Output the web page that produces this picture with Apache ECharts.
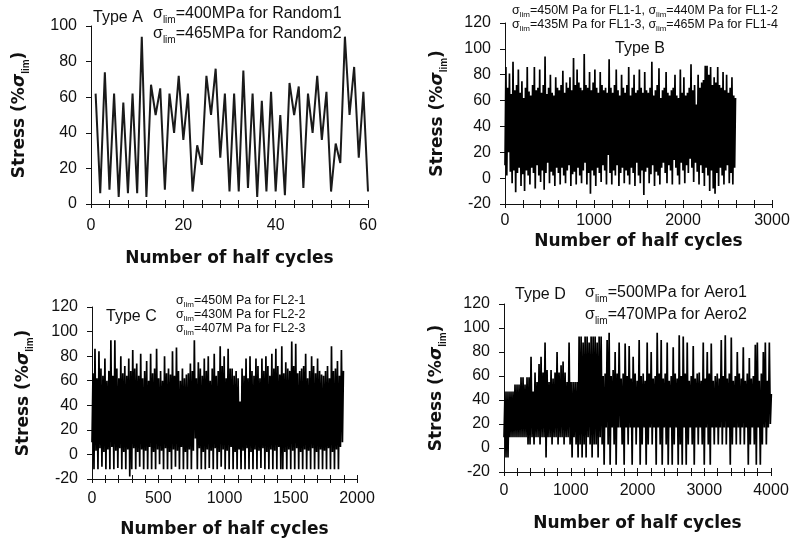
<!DOCTYPE html>
<html>
<head>
<meta charset="utf-8">
<style>html,body{margin:0;padding:0;background:#fff}#chart{width:794px;height:544px}</style>
<script src="https://cdn.jsdelivr.net/npm/echarts@6/dist/echarts.min.js"></script>
</head>
<body>
<div id="chart"></div>
<script>
// Type A: stress at each half cycle (1..60), % of sigma_lim
const aStress = [62, 6, 74, 8, 62, 4, 57, 6, 62, 6,
  94, 4, 67, 50, 65, 8, 62, 40, 72, 36,
  62, 7, 33, 22, 72, 50, 76, 26, 62, 7,
  62, 7, 75, 9, 62, 4, 58, 7, 63, 7,
  50, 5, 68, 50, 66, 9, 62, 40, 72, 36,
  63, 7, 34, 23, 94, 50, 77, 26, 63, 7];

// Type B: turning points, one valley + one peak per block of half cycles
const bStep = 20;
const bPeaks = [86, 70, 81, 65, 90, 68, 72, 84, 66, 75,
  62, 70, 86, 67, 64, 72, 86, 68, 70, 84,
  66, 72, 94, 65, 70, 80, 66, 64, 78, 70,
  68, 72, 83, 66, 74, 70, 78, 68, 93, 72,
  84, 74, 70, 68, 96, 72, 70, 82, 68, 74,
  84, 70, 66, 82, 72, 68, 70, 66, 92, 70,
  66, 72, 84, 68, 64, 80, 70, 66, 72, 86,
  64, 70, 80, 66, 68, 84, 70, 66, 82, 68,
  66, 70, 90, 64, 68, 72, 85, 62, 68, 70,
  82, 66, 64, 68, 70, 80, 64, 62, 84, 66,
  78, 64, 66, 70, 88, 68, 72, 57, 80, 70,
  74, 76, 87, 87, 80, 86, 72, 78, 74, 86,
  72, 70, 82, 68, 80, 66, 70, 78, 64, 62];
const bValleys = [10, 2, 20, 5, -4, 6, -11, 4, 8, -6,
  3, -10, 6, 2, -5, 8, 4, -8, 10, 2,
  -3, 6, -9, 4, 12, -4, 5, 2, -6, 8,
  4, -5, 8, 2, -4, 6, 10, -6, 3, 5,
  -5, 8, 2, -4, 6, 12, -5, 4, -12, 6,
  2, -6, 8, 4, -3, 10, 6, -5, 18, 4,
  -5, 6, 2, 10, -6, 4, 8, -4, 6, 2,
  -5, 8, 4, -6, 12, 2, -4, 6, -13, 5,
  8, -4, 3, 10, -6, 5, 2, -5, 8, 12,
  4, -4, 10, 6, -5, 14, 8, 2, -5, 12,
  6, -4, 10, 4, 15, 8, -3, 12, 5, -5,
  10, 4, -6, 8, 2, -10, 6, -8, -12, 4,
  -6, 8, 2, -5, 6, 10, -4, 4, -5, 8];

// Type C
const cStep = 15;
const cPeaks = [66, 86, 62, 84, 70, 64, 78, 60, 68, 93,
  64, 93, 70, 62, 80, 66, 72, 64, 78, 68,
  85, 70, 74, 64, 82, 62, 68, 76, 60, 82,
  66, 70, 86, 62, 68, 60, 80, 66, 70, 65,
  84, 64, 87, 68, 60, 70, 62, 65, 66, 74,
  68, 93, 62, 75, 70, 64, 78, 68, 80, 60,
  70, 82, 64, 68, 88, 72, 80, 62, 86, 70,
  70, 64, 68, 62, 43, 70, 64, 78, 62, 80,
  68, 64, 78, 72, 62, 78, 68, 80, 72, 64,
  82, 70, 86, 72, 65, 88, 66, 75, 70, 68,
  92, 72, 90, 66, 68, 70, 72, 82, 62, 68,
  80, 72, 66, 78, 68, 65, 64, 68, 72, 62,
  88, 68, 70, 76, 64, 85, 68];
const cValleys = [10, -12, 3, -12, 5, -10, 2, -12, 4, -12,
  6, -12, 3, -11, 5, -12, 2, -12, 4, -18,
  -12, 5, -12, 2, -10, 4, -12, 3, -12, 6,
  -12, 2, -12, 4, -8, 3, -12, 5, -12, 2,
  -12, 4, -10, 3, -12, 6, -12, 2, -12, 4,
  -12, 3, 13, -12, 5, -12, 2, -12, 4, -11,
  3, -12, 5, -12, 2, -10, 4, -12, 3, -12,
  6, -12, 2, -12, 4, -12, 3, -12, 5, -12,
  2, -12, 4, -12, 3, -11, 5, -12, 2, -12,
  4, -12, 3, -12, 6, -12, -12, 2, -12, 4,
  -12, 3, -12, 5, -12, 2, -12, 4, -12, 3,
  -12, 5, -12, 2, -12, 4, -12, 3, -12, 5,
  -12, 2, -12, 4, -12, 6, 10];

// Type D
const dStep = 30;
const dPeaks = [47, 47, 47, 47, 47, 53, 53, 53, 59, 59,
  53, 59, 59, 76, 47, 63, 55, 70, 76, 63,
  88, 65, 55, 65, 58, 63, 80, 63, 69, 72,
  63, 55, 88, 55, 55, 55, 55, 93, 93, 88,
  93, 93, 88, 93, 93, 93, 88, 93, 93, 60,
  62, 90, 96, 60, 65, 80, 62, 88, 58, 62,
  87, 60, 85, 58, 76, 62, 56, 90, 60, 62,
  56, 88, 62, 80, 58, 60, 96, 62, 90, 58,
  62, 88, 56, 60, 84, 62, 58, 94, 60, 93,
  62, 88, 56, 60, 85, 58, 62, 63, 56, 88,
  58, 80, 62, 87, 56, 60, 62, 58, 90, 60,
  94, 58, 62, 92, 56, 60, 80, 62, 58, 84,
  56, 62, 75, 58, 60, 86, 88, 56, 62, 80,
  88, 56, 88, 45];
const dValleys = [9, -8, -8, 9, 9, 9, 9, 9, 9, 9,
  9, 9, 3, 3, 9, 3, 9, 9, 3, 9,
  9, -8, 9, 9, 3, 9, 9, 3, 9, 9,
  3, 9, 9, 3, -8, 9, 3, -8, 3, -8,
  3, -8, 9, 3, -8, 3, 3, -8, 9, 3,
  -14, 17, 3, -14, 17, 3, -14, 17, 17, 3,
  -14, 17, 3, 17, -14, 17, 3, 17, -14, 3,
  17, -14, 3, 17, 3, 17, -14, 17, 3, -14,
  17, 3, -14, 17, -14, 3, 17, -14, 3, -14,
  17, -14, 3, 17, 3, -14, 17, 3, 17, 3,
  -14, 17, 3, -14, 17, 3, 17, 3, 17, 3,
  17, 3, 17, -14, 3, 17, 3, 17, 3, 17,
  3, 17, -14, 3, 17, 3, -14, 17, -14, 3,
  17, 3, 17, 20];

const INK = '#111';
const FONT = '"Liberation Sans", Arial, sans-serif';
const BOLD = '"DejaVu Sans", sans-serif';

// valley at start of each block, peak half way through it
function turning(valleys, peaks, step) {
  const out = [];
  valleys.forEach((v, i) => {
    out.push([i * step, v]);
    out.push([i * step + step / 2, peaks[i]]);
  });
  return out;
}

const xName = 'Number of half cycles';
const yName = '{a|Stress (%}{s|σ}{b|lim}{a|)}';

// two axes per grid so the ticks cross the axis line
function xAxes(grid, max, interval, labelMargin, nameGap) {
  const line = { show: true, onZero: false, lineStyle: { color: INK, width: 1 } };
  const tick = { show: true, length: 4, lineStyle: { color: INK } };
  const minor = { show: true, splitNumber: 5, length: 4, lineStyle: { color: INK } };
  return [{
    type: 'value', gridIndex: grid, position: 'bottom', min: 0, max: max, interval: interval,
    axisLine: line, axisTick: tick, minorTick: minor,
    splitLine: { show: false },
    axisLabel: { margin: labelMargin, fontSize: 16, fontFamily: FONT, color: INK, formatter: v => String(v) },
    name: xName, nameLocation: 'middle', nameGap: nameGap,
    nameTextStyle: { fontFamily: BOLD, fontWeight: 'bold', fontSize: 17, color: INK }
  }, {
    type: 'value', gridIndex: grid, position: 'bottom', min: 0, max: max, interval: interval,
    axisLine: { show: false, onZero: false },
    axisTick: Object.assign({}, tick, { inside: true }), minorTick: minor,
    splitLine: { show: false }, axisLabel: { show: false }
  }];
}

function yAxis(grid, min, max, nameGap) {
  return {
    type: 'value', gridIndex: grid, min: min, max: max, interval: 20,
    axisLine: { show: true, onZero: false, lineStyle: { color: INK, width: 1 } },
    axisTick: { show: true, length: 5, lineStyle: { color: INK } },
    splitLine: { show: false },
    axisLabel: { margin: 14, fontSize: 16, fontFamily: FONT, color: INK },
    name: yName, nameLocation: 'middle', nameRotate: 90, nameGap: nameGap,
    nameTextStyle: {
      color: INK,
      rich: {
        a: { fontFamily: BOLD, fontWeight: 'bold', fontSize: 17, color: INK },
        s: { fontFamily: BOLD, fontWeight: 'bold', fontStyle: 'italic', fontSize: 17, color: INK },
        b: { fontFamily: FONT, fontWeight: 'bold', fontSize: 10, color: INK, padding: [12, 0, 0, 0] }
      }
    }
  };
}

// sigma_lim annotation, subscript pushed down with padding
function sigma(parts, size, sub, pad) {
  return {
    text: parts.map(p => '{s|σ}{b|lim}{n|' + p + '}').join(''),
    fill: INK,
    rich: {
      s: { fontSize: size, fontFamily: FONT, fill: INK },
      b: { fontSize: sub, fontFamily: FONT, fill: INK, padding: [pad, 0, 0, 0] },
      n: { fontSize: size, fontFamily: FONT, fill: INK }
    }
  };
}
function plain(text, size) {
  return { text: text, fontSize: size, fontFamily: FONT, fill: INK };
}

const chart = echarts.init(document.getElementById('chart'));
const xs = [].concat(
  xAxes(0, 60, 20, 14, 46),
  xAxes(1, 3000, 1000, 9, 29),
  xAxes(2, 2000, 500, 12, 42),
  xAxes(3, 4000, 1000, 11, 43)
);
const dense = { color: '#000', width: 1.7 };

chart.setOption({
  animation: false,
  backgroundColor: '#fff',
  grid: [
    { left: 91, top: 26, width: 277, height: 178 },
    { left: 505, top: 23, width: 267, height: 181 },
    { left: 92, top: 307, width: 265, height: 172 },
    { left: 504, top: 304, width: 267, height: 168 }
  ],
  xAxis: xs,
  yAxis: [yAxis(0, 0, 100, 60), yAxis(1, -20, 120, 56), yAxis(2, -20, 120, 57), yAxis(3, -20, 120, 56)],
  series: [
    { type: 'line', xAxisIndex: 0, yAxisIndex: 0, showSymbol: false,
      lineStyle: { color: '#1a1a1a', width: 2 },
      data: aStress.map((v, i) => [i + 1, v]) },
    { type: 'line', xAxisIndex: 2, yAxisIndex: 1, showSymbol: false, lineStyle: dense,
      data: turning(bValleys, bPeaks, bStep) },
    { type: 'line', xAxisIndex: 4, yAxisIndex: 2, showSymbol: false, lineStyle: dense,
      data: turning(cValleys, cPeaks, cStep) },
    { type: 'line', xAxisIndex: 6, yAxisIndex: 3, showSymbol: false, lineStyle: dense,
      data: turning(dValleys, dPeaks, dStep) }
  ],
  graphic: [
    { type: 'text', left: 93, top: 10, style: plain('Type A', 16) },
    { type: 'text', left: 153, top: 6, style: sigma(['=400MPa for Random1'], 16, 10, 12) },
    { type: 'text', left: 153, top: 26, style: sigma(['=465MPa for Random2'], 16, 10, 12) },
    { type: 'text', left: 512, top: 4, style: sigma(['=450M Pa for FL1-1, ', '=440M Pa for FL1-2'], 12.5, 8, 8) },
    { type: 'text', left: 512, top: 18, style: sigma(['=435M Pa for FL1-3, ', '=465M Pa for FL1-4'], 12.5, 8, 8) },
    { type: 'text', left: 615, top: 41, style: plain('Type B', 16) },
    { type: 'text', left: 106, top: 309, style: plain('Type C', 16) },
    { type: 'text', left: 176, top: 294, style: sigma(['=450M Pa for FL2-1'], 12.5, 8, 8) },
    { type: 'text', left: 176, top: 308, style: sigma(['=430M Pa for FL2-2'], 12.5, 8, 8) },
    { type: 'text', left: 176, top: 322, style: sigma(['=407M Pa for FL2-3'], 12.5, 8, 8) },
    { type: 'text', left: 515, top: 287, style: plain('Type D', 16) },
    { type: 'text', left: 585, top: 285, style: sigma(['=500MPa for Aero1'], 16, 10, 12) },
    { type: 'text', left: 585, top: 307, style: sigma(['=470MPa for Aero2'], 16, 10, 12) }
  ]
});
window.addEventListener('resize', () => chart.resize());
</script>
</body>
</html>
